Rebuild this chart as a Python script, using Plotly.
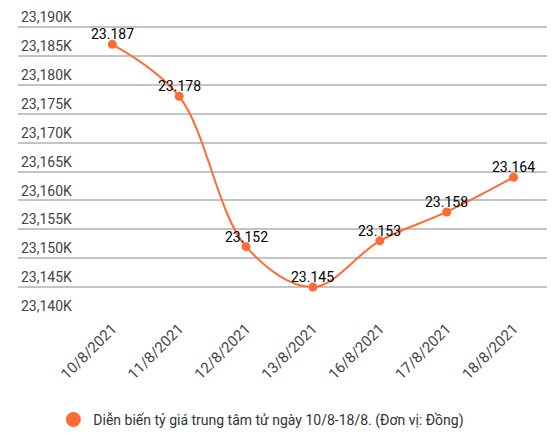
import plotly.graph_objects as go

dates = ["10/8/2021", "11/8/2021", "12/8/2021", "13/8/2021",
         "16/8/2021", "17/8/2021", "18/8/2021"]
rates = [23187, 23178, 23152, 23145, 23153, 23158, 23164]
y_ticks = [23140, 23145, 23150, 23155, 23160, 23165, 23170, 23175, 23180, 23185, 23190]
series_name = "Diễn biến tỷ giá trung tâm tử ngày 10/8-18/8. (Đơn vị: Đồng)"

orange = "#ff6a35"
labels = [f"{v:,}".replace(",", ".") for v in rates]
tick_text = [f"{v:,}K" for v in y_ticks]

fig = go.Figure()
fig.add_trace(go.Scatter(
    x=dates, y=rates, mode="lines+markers",
    line=dict(color=orange, width=2, shape="spline", smoothing=1.0),
    marker=dict(color=orange, size=9),
    showlegend=False, cliponaxis=False,
))
# legend entry with a bigger dot
fig.add_trace(go.Scatter(
    x=[None], y=[None], mode="markers", name=series_name,
    marker=dict(color=orange, size=15),
))

# value labels just above each point
for d, v, t in zip(dates, rates, labels):
    fig.add_annotation(x=d, y=v, text=t, showarrow=False, yanchor="middle", yshift=10,
                       font=dict(family="Roboto", size=14, color="#000"))

fig.update_layout(
    template="none",
    width=554, height=440,
    margin=dict(l=18, r=7, t=1, b=124),
    paper_bgcolor="white", plot_bgcolor="white",
    font=dict(family="Roboto", size=14, color="#444"),
    showlegend=True,
    legend=dict(orientation="h", x=0.46, xanchor="center", y=-0.33, yanchor="middle",
                font=dict(size=14, color="#333")),
)
fig.update_xaxes(
    type="category", range=[-1.41, 6.5], tickangle=-45,
    showgrid=False, showline=False, ticks="",
    tickfont=dict(size=15, color="#444"),
)
fig.update_yaxes(
    range=[23140, 23194.5], tickvals=y_ticks, ticktext=tick_text,
    ticklabelposition="inside top", ticks="",
    showgrid=True, gridcolor="#c4c4c4", gridwidth=1.5,
    zeroline=False, showline=False,
    tickfont=dict(size=14, color="#444"),
)

# page has a default body margin; remove it so the figure sits at 0,0
fig.write_html("out.html", config={"displayModeBar": False},
               post_script="document.body.style.margin='0';")
